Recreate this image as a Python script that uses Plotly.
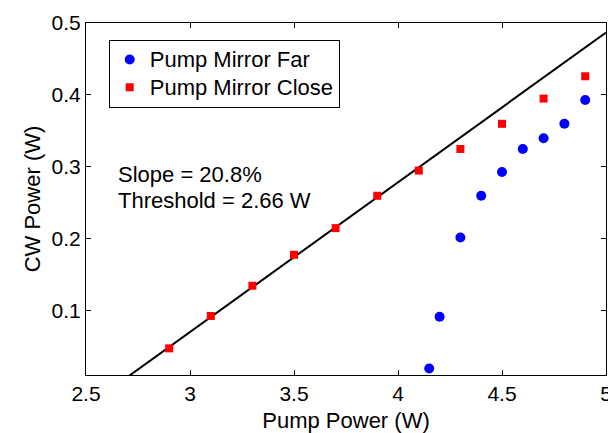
import plotly.graph_objects as go

# Data
far_x = [4.15, 4.2, 4.3, 4.4, 4.5, 4.6, 4.7, 4.8, 4.9]
far_y = [0.020, 0.092, 0.202, 0.260, 0.293, 0.325, 0.340, 0.360, 0.393]

close_x = [2.9, 3.1, 3.3, 3.5, 3.7, 3.9, 4.1, 4.3, 4.5, 4.7, 4.9]
close_y = [0.048, 0.093, 0.135, 0.178, 0.215, 0.260, 0.295, 0.325, 0.360, 0.395, 0.426]

slope = 0.208
threshold = 2.66
fit_x = [threshold, 5.0]
fit_y = [slope * (x - threshold) for x in fit_x]

x_ticks = [2.5, 3, 3.5, 4, 4.5, 5]
x_ticklabels = ["2.5", "3", "3.5", "4", "4.5", "5"]
y_ticks = [0.1, 0.2, 0.3, 0.4, 0.5]
y_ticklabels = ["0.1", "0.2", "0.3", "0.4", "0.5"]

FONT = "Liberation Sans, Arial, Helvetica, sans-serif"

def big(label):
    return f'<span style="font-size:22px">{label}</span>'

fig = go.Figure()
fig.add_trace(go.Scatter(x=fit_x, y=fit_y, mode="lines",
                         line=dict(color="black", width=2), showlegend=False))
fig.add_trace(go.Scatter(x=far_x, y=far_y, mode="markers", name=big("Pump Mirror Far"),
                         marker=dict(symbol="circle", size=10, color="#0000FF")))
fig.add_trace(go.Scatter(x=close_x, y=close_y, mode="markers", name=big("Pump Mirror Close"),
                         marker=dict(symbol="square", size=8, color="#FF0000")))

fig.add_annotation(x=2.644, y=0.289, xref="x", yref="y", text="Slope = 20.8%",
                   showarrow=False, xanchor="left", yanchor="middle",
                   font=dict(family=FONT, size=22, color="black"))
fig.add_annotation(x=2.644, y=0.254, xref="x", yref="y", text="Threshold = 2.66 W",
                   showarrow=False, xanchor="left", yanchor="middle",
                   font=dict(family=FONT, size=22, color="black"))

axis_common = dict(showline=True, linecolor="black", linewidth=1, mirror="ticks",
                   ticks="inside", ticklen=5, tickcolor="black", tickwidth=1,
                   showgrid=False, zeroline=False, automargin=False,
                   tickfont=dict(family=FONT, size=21, color="black"))

fig.update_xaxes(range=[2.5, 5], tickvals=x_ticks, ticktext=x_ticklabels,
                 title=dict(text="Pump Power (W)", font=dict(family=FONT, size=22, color="black"),
                            standoff=8),
                 **axis_common)
fig.update_yaxes(range=[0.011, 0.5], tickvals=y_ticks, ticktext=y_ticklabels,
                 title=dict(text="CW Power (W)", font=dict(family=FONT, size=22, color="black"),
                            standoff=4),
                 **axis_common)

fig.update_layout(
    width=616, height=433,
    margin=dict(l=78, r=18, t=15, b=66),
    plot_bgcolor="white", paper_bgcolor="white",
    font=dict(family=FONT, color="black"),
    legend=dict(x=0.0437, y=0.9525, xanchor="left", yanchor="top",
                bordercolor="black", borderwidth=1, bgcolor="white",
                font=dict(family=FONT, size=19, color="black")),
)

fig.write_html("out.html")
